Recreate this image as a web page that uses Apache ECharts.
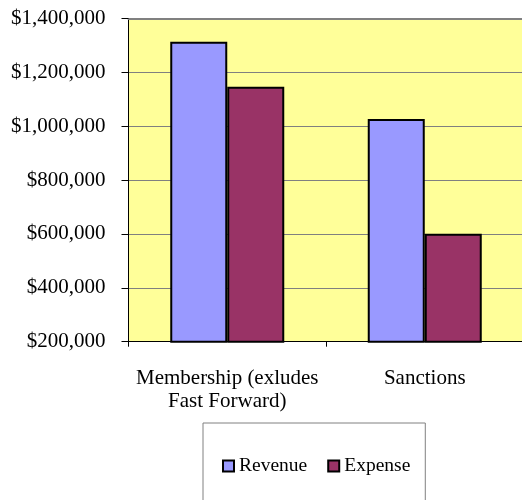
<!DOCTYPE html>
<html>
<head>
<meta charset="utf-8">
<script src="https://cdn.jsdelivr.net/npm/echarts@6/dist/echarts.min.js"></script>
<style>
  html, body { margin: 0; padding: 0; background: #fff; overflow: hidden; }
  #chart { width: 522px; height: 500px; }
</style>
</head>
<body>
<div id="chart"></div>
<script>
// data
var categories = ['Membership (exludes\nFast Forward)', 'Sanctions'];
var revenue = [1314000, 1027000];
var expense = [1147000, 601000];
var seriesNames = ['Revenue', 'Expense'];

var font = 'Liberation Serif';

var chart = echarts.init(document.getElementById('chart'));

var option = {
  animation: false,
  textStyle: { fontFamily: font, color: '#000' },
  grid: {
    left: 128.5,
    top: 18.5,
    right: -1.5,
    bottom: 158.3,
    outerBoundsMode: 'none',
    show: false
  },
  legend: {
    data: seriesNames,
    left: 203,
    top: 423,
    icon: 'rect',
    itemWidth: 11,
    itemHeight: 11,
    itemGap: 20,
    padding: [33, 15, 40, 19],
    borderColor: '#808080',
    borderWidth: 1,
    textStyle: { fontFamily: font, fontSize: 19.5, color: '#000' }
  },
  xAxis: [
    {
      type: 'category',
      data: categories,
      axisLine: { lineStyle: { color: '#000', width: 1 } },
      axisTick: { show: true, length: 5, lineStyle: { color: '#000' } },
      axisLabel: {
        interval: 0,
        fontFamily: font,
        fontSize: 21,
        color: '#000',
        margin: 25,
        lineHeight: 23.5
      }
    },
    {
      // plot-area top border
      type: 'category',
      data: categories,
      position: 'top',
      axisLine: { lineStyle: { color: '#808080', width: 2 } },
      axisTick: { show: false },
      axisLabel: { show: false }
    }
  ],
  yAxis: {
    type: 'value',
    min: 200000,
    max: 1400000,
    interval: 200000,
    axisLine: { show: true, lineStyle: { color: '#000', width: 1 } },
    axisTick: { show: true, length: 7, lineStyle: { color: '#000' } },
    splitLine: { lineStyle: { color: '#808080', width: 1 } },
    splitArea: { show: true, areaStyle: { color: ['#FFFF99'] } },
    axisLabel: {
      fontFamily: font,
      fontSize: 21,
      color: '#000',
      margin: 23,
      formatter: function (v) { return '$' + v.toLocaleString('en-US'); }
    }
  },
  series: [
    {
      name: seriesNames[0],
      type: 'bar',
      data: revenue,
      barWidth: 57,
      barGap: '0%',
      itemStyle: { color: '#9999FF', borderColor: '#000', borderWidth: 2 }
    },
    {
      name: seriesNames[1],
      type: 'bar',
      data: expense,
      barWidth: 57,
      barGap: '0%',
      itemStyle: { color: '#993366', borderColor: '#000', borderWidth: 2 }
    }
  ]
};

chart.setOption(option);
</script>
</body>
</html>
